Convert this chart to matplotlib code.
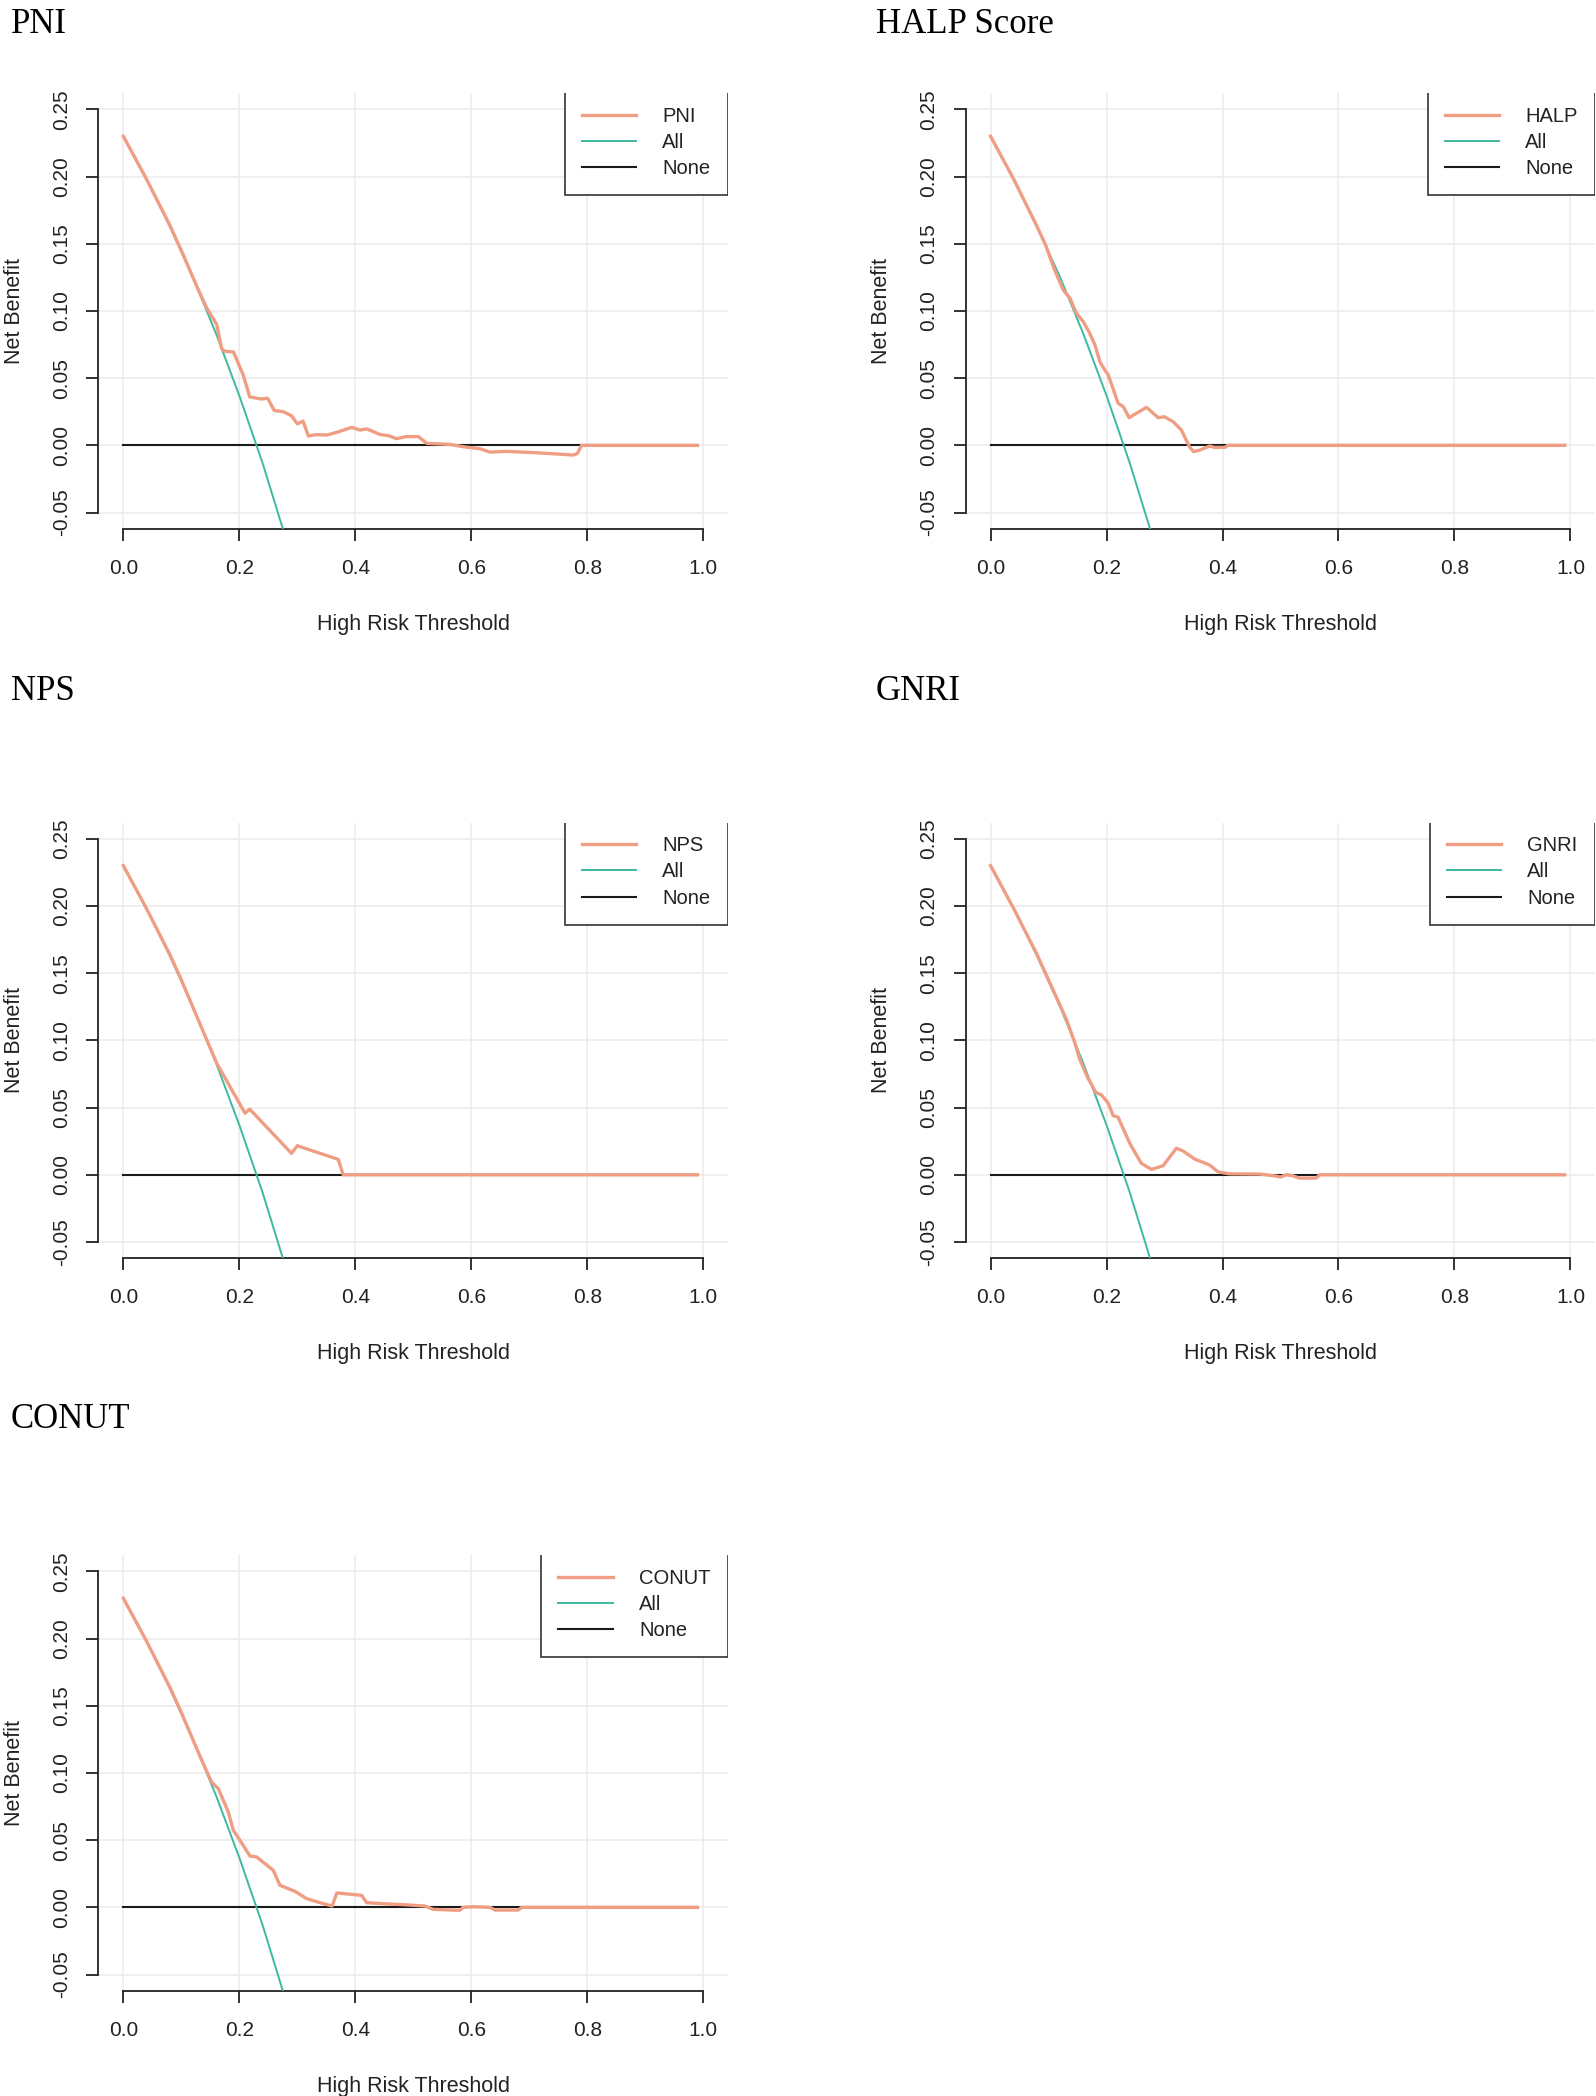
"""Decision curves (net benefit vs high risk threshold) for five nutrition scores."""

import matplotlib

matplotlib.use("Agg")
import matplotlib.pyplot as plt

# --- data -----------------------------------------------------------------
# treat-all and treat-none reference curves (same cohort for every panel)
all_x = [0.0, 0.04, 0.08, 0.12, 0.16, 0.20, 0.24, 0.28]
all_y = [0.23, 0.198, 0.163, 0.125, 0.083, 0.037, -0.013, -0.069]
none_x = [0.0, 0.99]
none_y = [0.0, 0.0]

pni_x = [0, 0.04, 0.08, 0.10, 0.129, 0.144, 0.161, 0.1695, 0.175, 0.19, 0.207, 0.218,
         0.238, 0.249, 0.26, 0.276, 0.29, 0.30, 0.31, 0.319, 0.333, 0.351, 0.368, 0.394,
         0.408, 0.42, 0.442, 0.457, 0.471, 0.488, 0.509, 0.523, 0.563, 0.586, 0.615,
         0.632, 0.661, 0.713, 0.776, 0.783, 0.79, 0.99]
pni_y = [0.23, 0.198, 0.164, 0.145, 0.116, 0.102, 0.090, 0.072, 0.070, 0.0695, 0.052,
         0.036, 0.0345, 0.035, 0.026, 0.025, 0.022, 0.016, 0.018, 0.007, 0.008, 0.0077,
         0.0097, 0.0134, 0.0114, 0.0122, 0.0082, 0.0072, 0.005, 0.0065, 0.0065, 0.0015,
         0.0007, -0.001, -0.0025, -0.005, -0.0045, -0.0055, -0.0072, -0.006, 0.0, 0.0]

halp_x = [0, 0.04, 0.08, 0.095, 0.11, 0.1254, 0.137, 0.148, 0.16, 0.171, 0.18, 0.1885,
          0.197, 0.203, 0.22, 0.229, 0.239, 0.269, 0.289, 0.30, 0.315, 0.329, 0.343,
          0.35, 0.361, 0.378, 0.386, 0.404, 0.409, 0.99]
halp_y = [0.23, 0.198, 0.163, 0.149, 0.131, 0.1156, 0.1094, 0.0983, 0.092, 0.0834,
          0.0747, 0.0623, 0.0561, 0.0524, 0.0313, 0.0288, 0.0206, 0.0283, 0.0206,
          0.0213, 0.0176, 0.0114, -0.001, -0.0047, -0.0035, -0.0005, -0.0015, -0.0015,
          0.0, 0.0]

nps_x = [0, 0.04, 0.08, 0.10, 0.129, 0.161, 0.2098, 0.218, 0.29, 0.30, 0.3707, 0.379, 0.99]
nps_y = [0.23, 0.198, 0.164, 0.145, 0.1154, 0.083, 0.0458, 0.0488, 0.0159, 0.0216,
         0.0114, 0.0, 0.0]

gnri_x = [0, 0.04, 0.08, 0.10, 0.131, 0.1455, 0.154, 0.168, 0.1816, 0.191, 0.203,
          0.2115, 0.22, 0.24, 0.26, 0.2775, 0.2975, 0.3205, 0.332, 0.352, 0.378, 0.392,
          0.412, 0.464, 0.4926, 0.4995, 0.51, 0.521, 0.533, 0.561, 0.568, 0.99]
gnri_y = [0.23, 0.198, 0.164, 0.145, 0.1154, 0.098, 0.0856, 0.0719, 0.0612, 0.0595,
          0.0532, 0.044, 0.0428, 0.0234, 0.0085, 0.004, 0.0067, 0.0197, 0.0177, 0.0117,
          0.0072, 0.0022, 0.0007, 0.0005, -0.001, -0.0017, 0.0, -0.0007, -0.0025,
          -0.0025, 0.0, 0.0]

conut_x = [0, 0.04, 0.08, 0.10, 0.129, 0.152, 0.1638, 0.181, 0.1897, 0.201, 0.2184,
           0.23, 0.2586, 0.27, 0.296, 0.316, 0.339, 0.36, 0.368, 0.3937, 0.411, 0.4195,
           0.448, 0.483, 0.52, 0.5345, 0.58, 0.586, 0.6035, 0.632, 0.641, 0.681, 0.687,
           0.99]
conut_y = [0.23, 0.198, 0.164, 0.145, 0.1156, 0.0933, 0.0883, 0.071, 0.0573, 0.0499,
           0.0382, 0.0375, 0.0275, 0.0164, 0.0119, 0.0065, 0.0035, 0.001, 0.0107,
           0.0097, 0.0089, 0.0035, 0.0027, 0.002, 0.001, -0.0015, -0.0022, 0.0, 0.0005,
           0.0, -0.002, -0.002, 0.0, 0.0]

titles = ["PNI", "HALP Score", "NPS", "GNRI", "CONUT"]
model_names = ["PNI", "HALP", "NPS", "GNRI", "CONUT"]
model_xs = [pni_x, halp_x, nps_x, gnri_x, conut_x]
model_ys = [pni_y, halp_y, nps_y, gnri_y, conut_y]

x_ticks = [0.0, 0.2, 0.4, 0.6, 0.8, 1.0]
y_ticks = [-0.05, 0.0, 0.05, 0.10, 0.15, 0.20, 0.25]

MODEL_COLOR = "#EF9E84"
ALL_COLOR = "#3DB9A0"
SANS = ["Liberation Sans", "DejaVu Sans"]
SERIF = ["Liberation Serif", "DejaVu Serif"]

W, H = 1596, 2096
fig = plt.figure(figsize=(W / 100, H / 100), dpi=100)
plt.rcParams["font.family"] = SANS

# panel geometry in pixels: (left, top) of the axes box, plus title baseline
col_left = [98.4, 965.6]
row_top = [93.2, 822.6, 1555.2]
title_base = [33, 700, 1428.5]
title_left = [11, 876]
ax_w, ax_h = 629.8, 435.5

for i, (title, name, mx, my) in enumerate(zip(titles, model_names, model_xs, model_ys)):
    r, c = divmod(i, 2)
    left = col_left[c] / W
    bottom = 1 - (row_top[r] + ax_h) / H
    ax = fig.add_axes([left, bottom, ax_w / W, ax_h / H])

    for xv in x_ticks:
        ax.axvline(xv, color="#EBEBEB", lw=1.1, zorder=0)
    for yv in y_ticks:
        ax.axhline(yv, color="#EBEBEB", lw=1.1, zorder=0)

    ax.plot(none_x, none_y, color="#1a1a1a", lw=1.5, label="None", zorder=2)
    ax.plot(all_x, all_y, color=ALL_COLOR, lw=1.4, label="All", zorder=3)
    ax.plot(mx, my, color=MODEL_COLOR, lw=2.4, label=name, zorder=4)

    ax.set_xlim(-0.043, 1.043)
    ax.set_ylim(-0.062, 0.262)
    for side in ("top", "right"):
        ax.spines[side].set_visible(False)
    ax.spines["left"].set_bounds(-0.05, 0.25)
    ax.spines["bottom"].set_bounds(0.0, 1.0)
    for side in ("left", "bottom"):
        ax.spines[side].set_color("#222222")
        ax.spines[side].set_linewidth(1.3)

    ax.set_xticks(x_ticks)
    ax.set_xticklabels([f"{v:.1f}" for v in x_ticks])
    ax.set_yticks(y_ticks)
    ax.set_yticklabels([f"{v:.2f}" for v in y_ticks], rotation=90, va="center")
    ax.tick_params(axis="both", length=8.6, width=1.3, color="#222222",
                   labelsize=15, labelcolor="#222222")
    ax.tick_params(axis="x", pad=13)
    ax.tick_params(axis="y", pad=11)

    ax.set_xlabel("High Risk Threshold", fontsize=15.5, color="#222222")
    ax.xaxis.set_label_coords(0.5, -0.219)
    ax.xaxis.label.set_va("center")
    ax.set_ylabel("Net Benefit", fontsize=15.5, color="#222222", va="center")
    ax.yaxis.set_label_coords(-0.133, 0.5)

    handles, labels = ax.get_legend_handles_labels()
    order = [2, 1, 0]
    leg = ax.legend([handles[k] for k in order], [labels[k] for k in order],
                    loc="upper right", bbox_to_anchor=(0.999, 1.008),
                    borderaxespad=0, fancybox=False, framealpha=1, fontsize=14.5,
                    handlelength=2.7, handletextpad=1.3, labelspacing=0.36,
                    borderpad=0.85)
    frame = leg.get_frame()
    frame.set_edgecolor("#333333")
    frame.set_linewidth(1.2)
    frame.set_clip_box(ax.bbox)
    frame.set_clip_on(True)
    for txt in leg.get_texts():
        txt.set_color("#222222")

    fig.text(title_left[c] / W, 1 - title_base[r] / H, title, fontsize=25,
             family=SERIF, ha="left", va="baseline", color="black")

fig.savefig("out.png", dpi=100)
